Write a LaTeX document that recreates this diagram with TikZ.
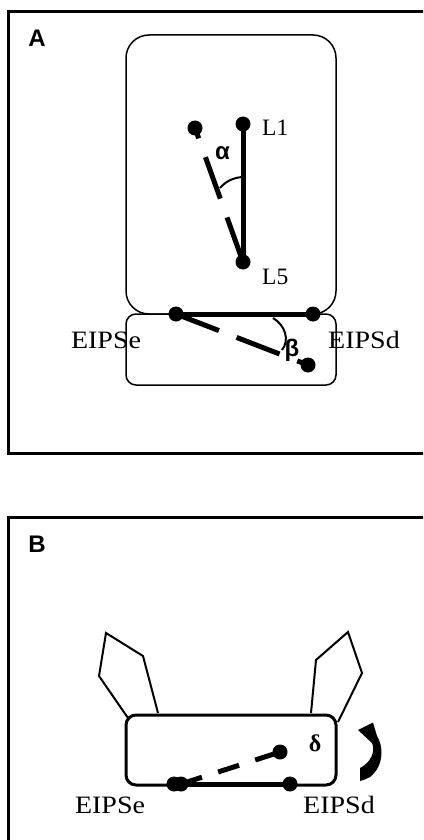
\documentclass[tikz,border=0pt]{standalone}
\usepackage{fontspec}
\setmainfont{Liberation Serif}
\newfontfamily\panelsans{Liberation Sans}
\newfontfamily\widelbl{Liberation Serif}[FakeStretch=1.12]
\begin{document}
\begin{tikzpicture}[x=1pt,y=-1pt,
  dot/.style={circle,fill=black,inner sep=0pt,minimum size=15pt},
  frame/.style={line width=3pt},
  seg/.style={line width=5pt},
  thinbox/.style={line width=1.5pt},
  angarc/.style={line width=2pt},
  vlbl/.style={font=\fontsize{23.5}{25}\selectfont,inner sep=0pt},
  lbl/.style={font=\widelbl\fontsize{25}{27}\selectfont,inner sep=0pt},
  greek/.style={font=\panelsans\bfseries\fontsize{24}{26}\selectfont,inner sep=0pt},
  panel/.style={font=\panelsans\bfseries\fontsize{24}{26}\selectfont,inner sep=0pt}]
\useasboundingbox (0,0) rectangle (423,840);
\clip (0,0) rectangle (423,840);

% ---------- panel A ----------
\draw[frame] (8,12) rectangle (440,453);
\node[panel] (pa) at (37,38) {A};

\draw[thinbox, rounded corners=23pt] (126,35) rectangle (336,314);
\draw[thinbox, rounded corners=10pt] (126,314) rectangle (336,385);

\node[dot] (L1) at (243,124) {};
\node[dot] (L5) at (243,262) {};
\node[dot] (Lref) at (195,128) {};
\node[vlbl, anchor=west] (tL1) at (262,128) {L1};
\node[vlbl, anchor=west] (tL5) at (262,277) {L5};

\draw[seg] (L1.center) -- (L5.center);
\draw[seg, dash pattern=on 44pt off 20pt, dash phase=33pt] (Lref.center) -- (L5.center);
\draw[angarc] (220,188) .. controls (226,181) and (233,178) .. (242,177);
\node[greek] (alpha) at (222.5,153) {α};

\node[dot] (Ae) at (176,314) {};
\node[dot] (Ad) at (313,314) {};
\node[dot] (Ab) at (308,365) {};
\draw[seg] (Ae.center) -- (Ad.center);
\draw[seg, dash pattern=on 46pt off 19pt] (Ae.center) -- (Ab.center);
\draw[angarc] (273,318) .. controls (285,325) and (290,340) .. (282,350);
\node[greek] (beta) at (292,350) {β};

\node[lbl] (tAe) at (106,340) {EIPSe};
\node[lbl] (tAd) at (364,340) {EIPSd};

% ---------- panel B ----------
\draw[frame] (8,517) rectangle (440,860);
\node[panel] (pb) at (37,544) {B};

\draw[line width=2pt] (128,718) -- (99,676) -- (106,633) -- (143,656) -- (158,713);
\draw[line width=2pt] (311,713) -- (316,660) -- (348,632) -- (362,673) -- (338,722);
\draw[line width=3pt, rounded corners=10pt, fill=white] (126,715) rectangle (336,785);

\node[dot] (Be2) at (174,784) {};
\node[dot] (Be) at (181,784) {};
\node[dot] (Bd) at (290,784) {};
\node[dot] (Bu) at (280,752) {};
\draw[seg] (Be2.center) -- (Bd.center);
\draw[seg, dash pattern=on 22pt off 17pt] (Be.center) -- (Bu.center);
\node[font=\bfseries\fontsize{24}{26}\selectfont, inner sep=0pt] (delta) at (315,743.5) {δ};

\node[lbl] (tBe) at (110,805) {EIPSe};
\node[lbl] (tBd) at (339,805) {EIPSd};

% rotation arrow beside the box
\fill (358,730) -- (373,722.5) -- (377,736)
  .. controls (383,745) and (385,765) .. (370,777)
  .. controls (366,779) and (363,780.5) .. (360,781)
  -- (360,768)
  .. controls (370,763) and (376,752) .. (372,743) -- cycle;
\end{tikzpicture}
\end{document}
